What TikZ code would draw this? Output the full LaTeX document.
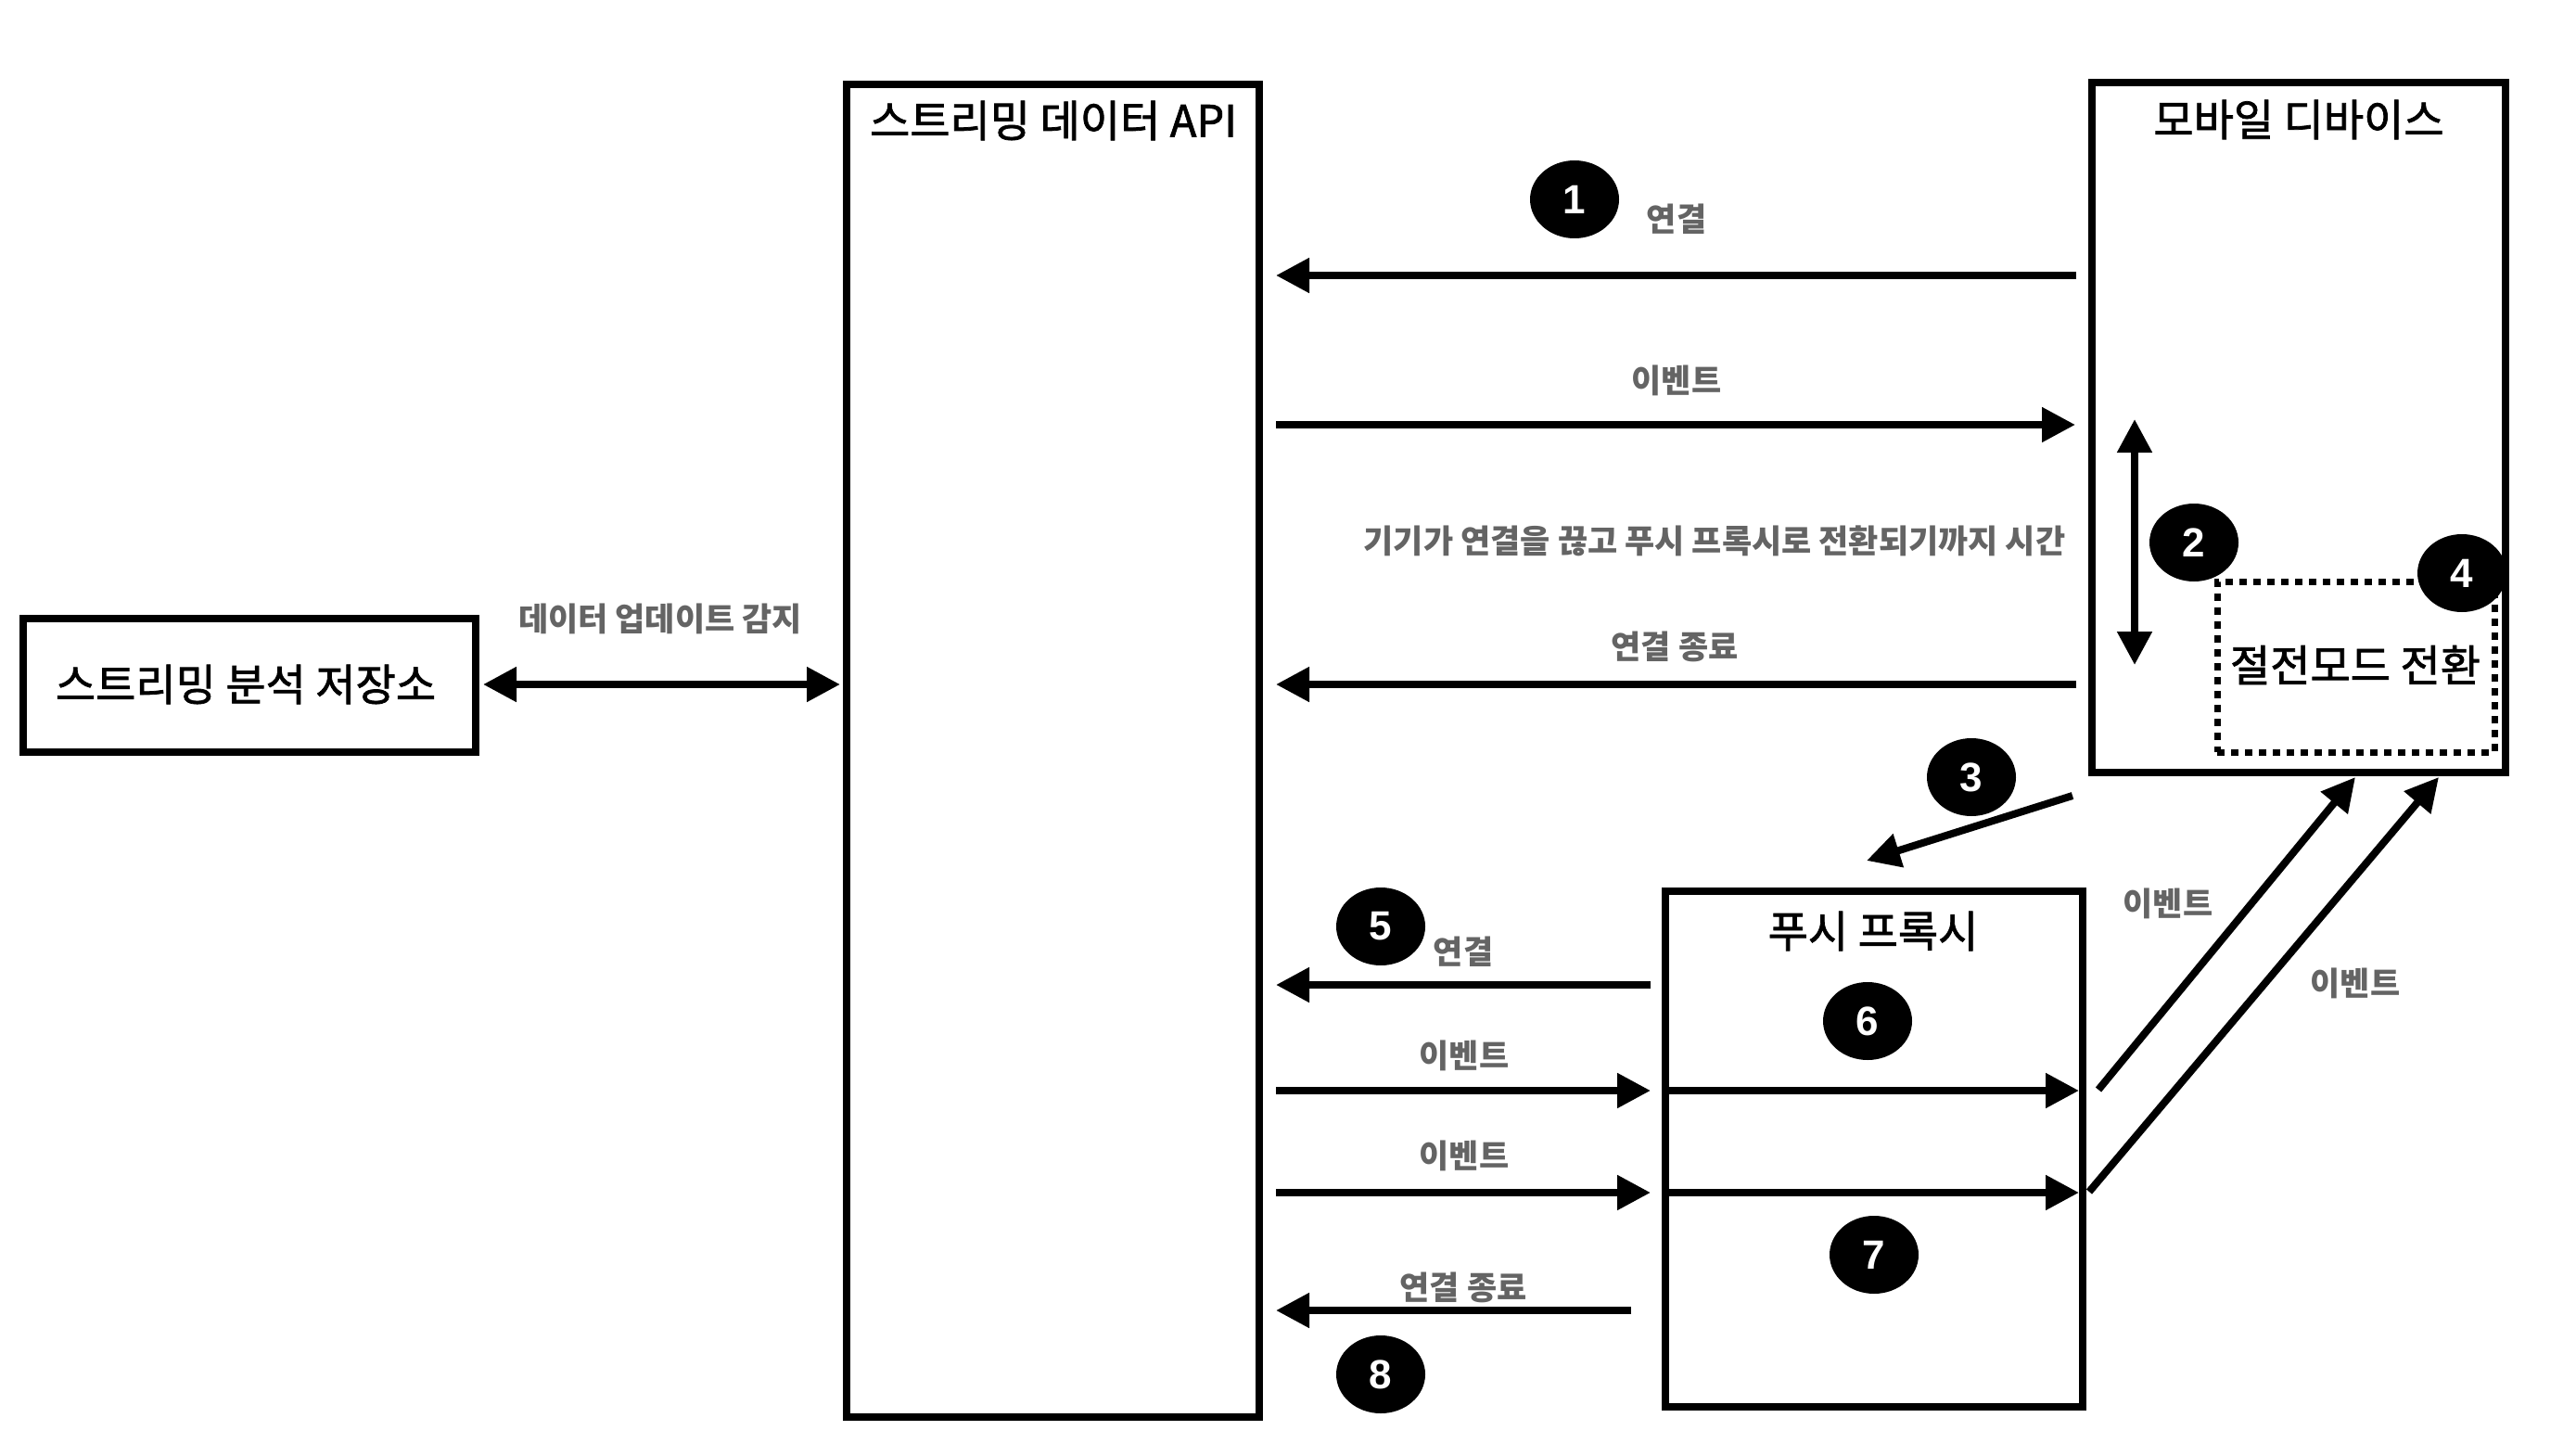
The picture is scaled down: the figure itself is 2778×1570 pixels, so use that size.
\documentclass[tikz,border=0pt]{standalone}
\usepackage{fontspec}
\setmainfont{Noto Sans CJK KR}
\newfontfamily\titlefont[FakeBold=1.6]{Noto Sans CJK KR}
\newfontfamily\numfont{Liberation Sans}
\usetikzlibrary{arrows.meta,shapes.geometric}
\definecolor{lblgray}{RGB}{100,100,100}
\begin{document}
\begin{tikzpicture}[x=1pt,y=-1pt,
  box/.style={draw, line width=7.5pt, inner sep=0pt},
  dotbox/.style={draw, line width=7pt, dash pattern=on 8pt off 7pt, inner sep=0pt},
  title/.style={font=\titlefont\fontsize{47}{54}\selectfont, inner sep=0pt},
  bigtitle/.style={font=\titlefont\fontsize{47}{54}\selectfont, inner sep=0pt},
  lbl/.style={font=\fontsize{35}{40}\selectfont\bfseries, text=lblgray, inner sep=0pt},
  num/.style={ellipse, fill=black, minimum width=96pt, minimum height=84pt, inner sep=0pt, text=white, font=\numfont\bfseries\fontsize{44}{50}\selectfont},
  arr/.style={line width=8pt, -{Triangle[length=36pt,width=36pt]}},
  darr/.style={line width=8pt, {Triangle[length=36pt,width=36pt]}-{Triangle[length=36pt,width=36pt]}},
]
\useasboundingbox (0,0) rectangle (2778,1570);

% boxes
\node[box, minimum width=488pt, minimum height=144pt] (store) at (269,739) {};
\node[bigtitle] (storet) at (265,738) {스트리밍 분석 저장소};
\node[box, minimum width=445pt, minimum height=1437pt] (api) at (1135.5,809.5) {};
\node[title] (apit) at (1136,130) {스트리밍 데이터 API};
\node[box, minimum width=446pt, minimum height=744pt] (mob) at (2479,461) {};
\node[title] (mobt) at (2479,129) {모바일 디바이스};
\node[dotbox, minimum width=299pt, minimum height=184pt] (save) at (2540.5,719) {};
\node[title] (savet) at (2540,717) {절전모드 전환};
\node[box, minimum width=450pt, minimum height=556pt] (proxy) at (2021,1239) {};
\node[title] (proxyt) at (2020,1004) {푸시 프록시};

% coordinates
\coordinate (sA) at (521,738);   \coordinate (sB) at (906,738);
\coordinate (m1s) at (2239,297); \coordinate (m1e) at (1376,297);
\coordinate (m2s) at (1376,458); \coordinate (m2e) at (2238,458);
\coordinate (m3s) at (2239,738); \coordinate (m3e) at (1376,738);
\coordinate (vT) at (2302,452);  \coordinate (vB) at (2302,717);
\coordinate (p3s) at (2235,858); \coordinate (p3e) at (2013,928);
\coordinate (p5s) at (1780,1062); \coordinate (p5e) at (1376,1062);
\coordinate (e1s) at (1376,1176); \coordinate (e1e) at (1780,1176);
\coordinate (f1s) at (1800,1176); \coordinate (f1e) at (2242,1176);
\coordinate (e2s) at (1376,1286); \coordinate (e2e) at (1780,1286);
\coordinate (f2s) at (1800,1286); \coordinate (f2e) at (2242,1286);
\coordinate (p8s) at (1759,1413); \coordinate (p8e) at (1376,1413);
\coordinate (d1s) at (2263,1175); \coordinate (d1e) at (2540,838);
\coordinate (d2s) at (2253,1285); \coordinate (d2e) at (2630,838);

% connectors
\draw[darr] (sA) -- (sB);
\draw[arr] (m1s) -- (m1e);
\draw[arr] (m2s) -- (m2e);
\draw[arr] (m3s) -- (m3e);
\draw[darr] (vT) -- (vB);
\draw[arr] (p3s) -- (p3e);
\draw[arr] (p5s) -- (p5e);
\draw[arr] (e1s) -- (e1e);
\draw[arr] (f1s) -- (f1e);
\draw[arr] (e2s) -- (e2e);
\draw[arr] (f2s) -- (f2e);
\draw[arr] (p8s) -- (p8e);
\draw[arr] (d1s) -- (d1e);
\draw[arr] (d2s) -- (d2e);

% labels
\node[lbl] (l0) at (712,667) {데이터 업데이트 감지};
\node[lbl] (l1) at (1808,236) {연결};
\node[lbl] (l2) at (1808,410) {이벤트};
\node[lbl] (l3) at (1849,583) {기기가 연결을 끊고 푸시 프록시로 전환되기까지 시간};
\node[lbl] (l4) at (1806,697) {연결 종료};
\node[lbl] (l5) at (1578,1026) {연결};
\node[lbl] (l6) at (1579,1138) {이벤트};
\node[lbl] (l7) at (1579,1246) {이벤트};
\node[lbl] (l8) at (1578,1388) {연결 종료};
\node[lbl] (l9) at (2338,974) {이벤트};
\node[lbl] (l10) at (2540,1060) {이벤트};

% step numbers
\node[num] (n1) at (1698,215) {1};
\node[num] (n2) at (2366,585) {2};
\node[num] (n3) at (2126,838) {3};
\node[num] (n4) at (2655,618) {4};
\node[num] (n5) at (1489,999) {5};
\node[num] (n6) at (2014,1101) {6};
\node[num] (n7) at (2021,1353) {7};
\node[num] (n8) at (1489,1482) {8};
\end{tikzpicture}
\end{document}
